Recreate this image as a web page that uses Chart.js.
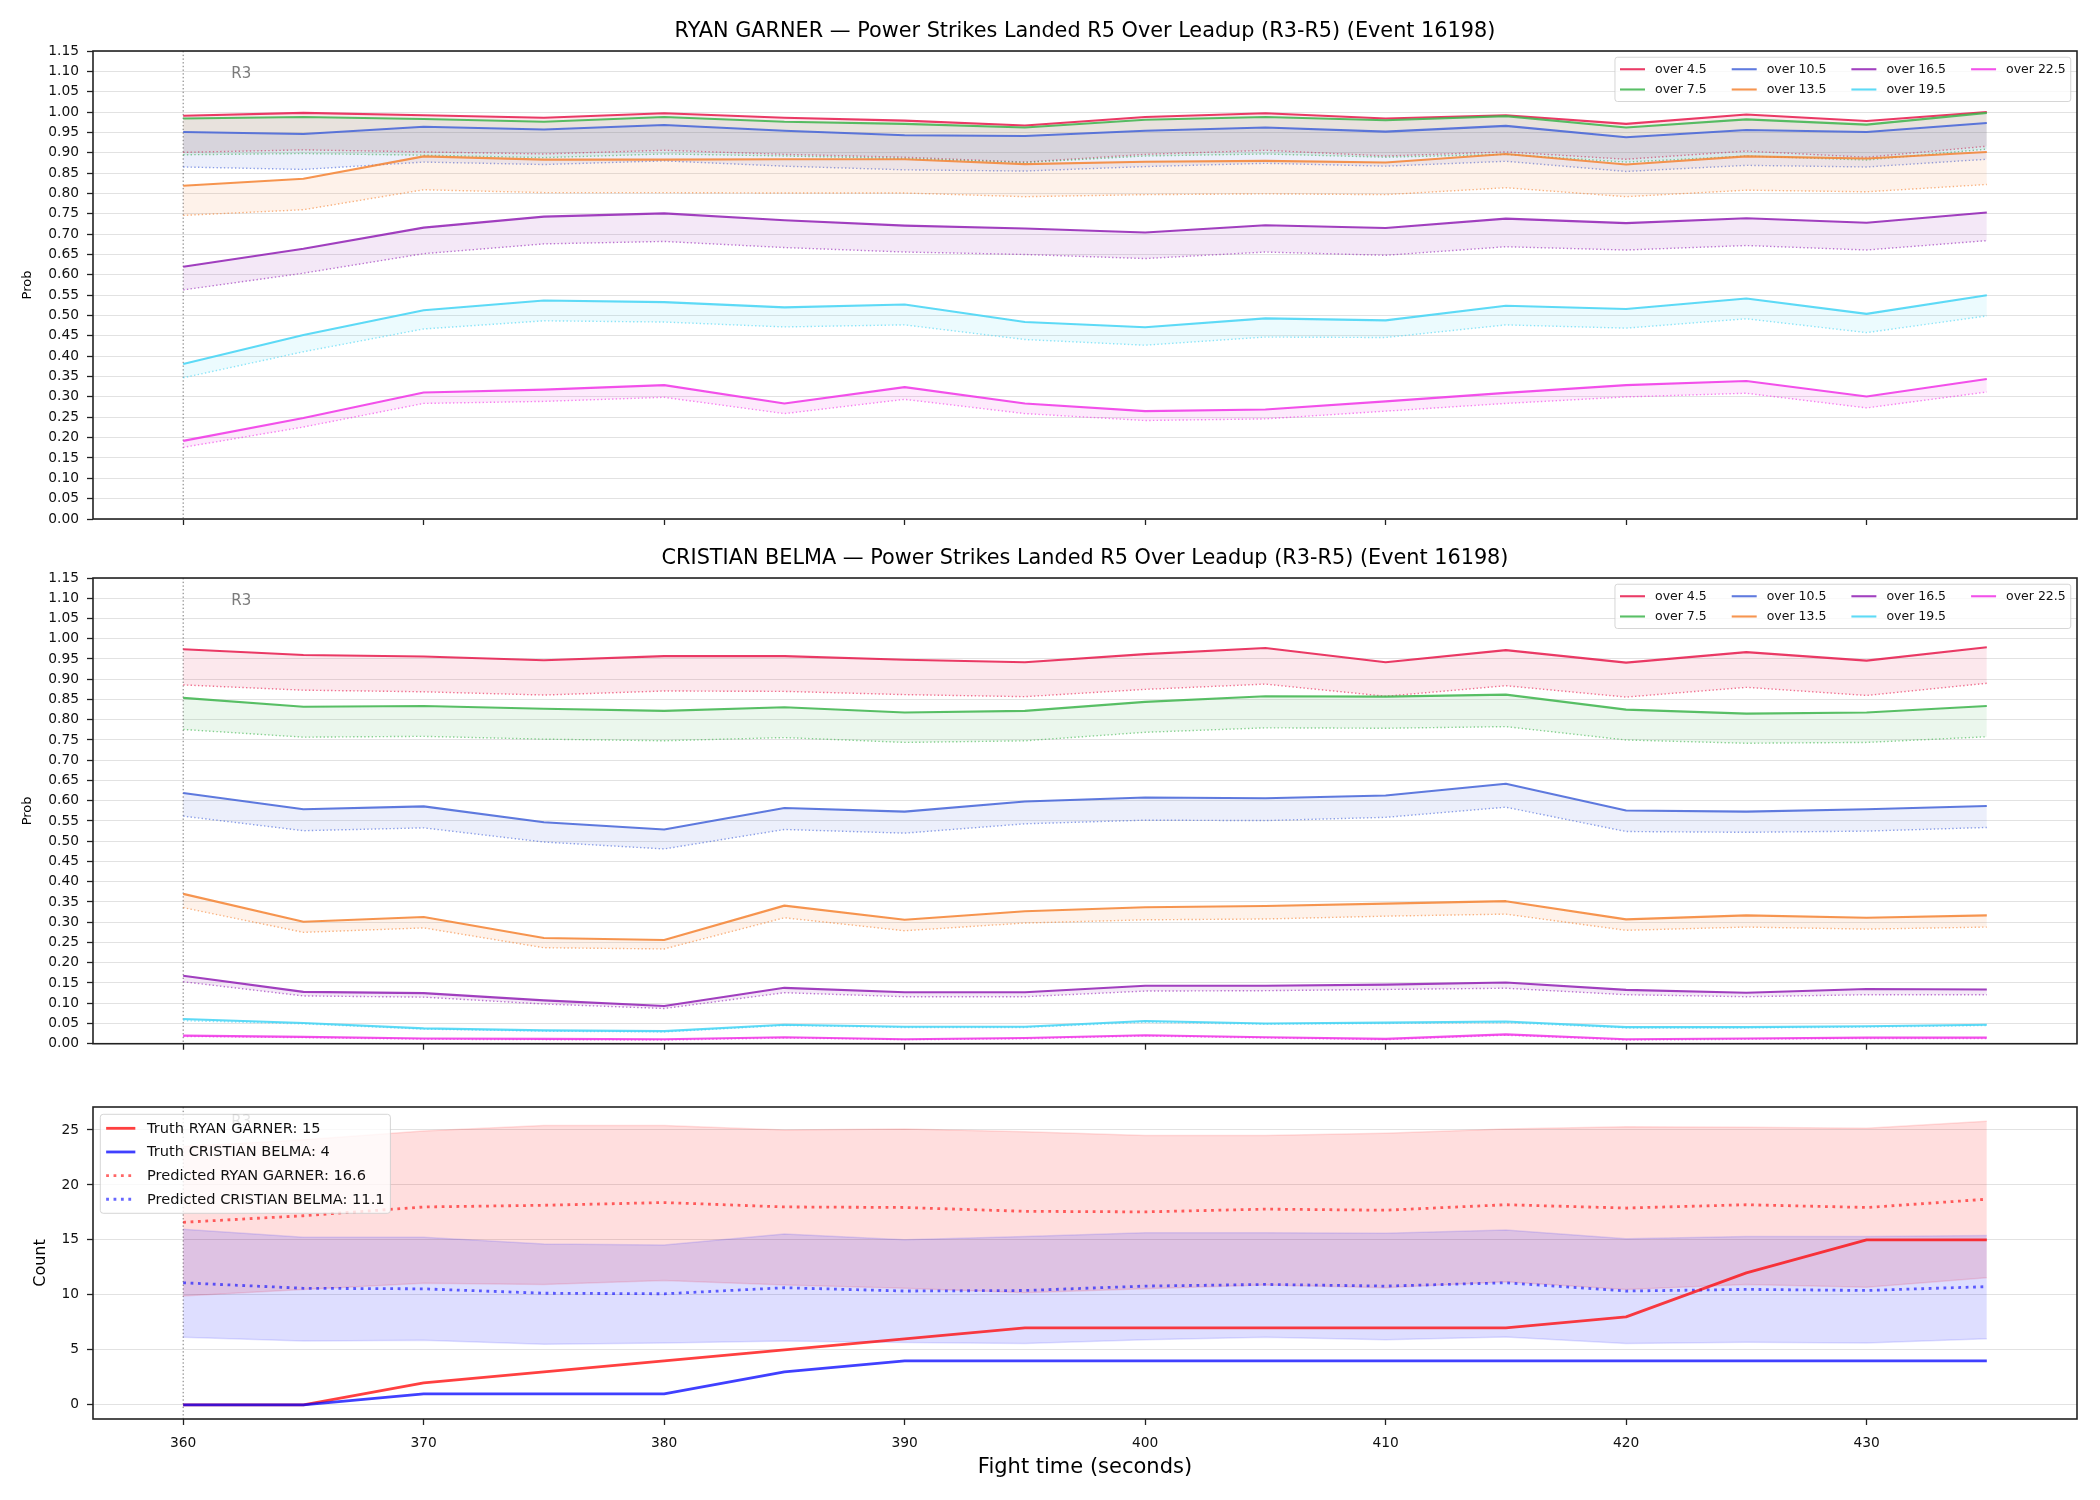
<!DOCTYPE html>
<html>
<head>
<meta charset="utf-8">
<title>Power Strikes Landed R5 Over Leadup (Event 16198)</title>
<script src="https://cdn.jsdelivr.net/npm/chart.js@4.4.1/dist/chart.umd.min.js"></script>
<style>
  body { margin: 0; background: #fff; }
  #figure { position: relative; width: 2100px; height: 1500px; background: #fff; }
  #figure canvas { position: absolute; left: 0; }
</style>
</head>
<body>
<div id="figure">
  <canvas id="garnerChart" width="2100" height="540" style="top:0px"></canvas>
  <canvas id="belmaChart" width="2100" height="520" style="top:540px"></canvas>
  <canvas id="countChart" width="2100" height="440" style="top:1060px"></canvas>
</div>
<script>
// fight time of each snapshot (seconds)
const times = [360, 365, 370, 375, 380, 385, 390, 395, 400, 405, 410, 415, 420, 425, 430, 435];
const xTicks = [360, 370, 380, 390, 400, 410, 420, 430];
const probTicks = [0.00, 0.05, 0.10, 0.15, 0.20, 0.25, 0.30, 0.35, 0.40, 0.45, 0.50, 0.55,
                   0.60, 0.65, 0.70, 0.75, 0.80, 0.85, 0.90, 0.95, 1.00, 1.05, 1.10, 1.15];
const countTicks = [0, 5, 10, 15, 20, 25];
const thresholdLabels = ['over 4.5', 'over 7.5', 'over 10.5', 'over 13.5', 'over 16.5', 'over 19.5', 'over 22.5'];

// RYAN GARNER - probability lines (solid) and lower dotted lines
const garner_4_5     = [0.991, 0.998, 0.992, 0.986, 0.997, 0.986, 0.979, 0.967, 0.988, 0.997, 0.984, 0.992, 0.971, 0.994, 0.978, 1.000];
const garner_4_5_lo  = [0.901, 0.907, 0.902, 0.897, 0.906, 0.896, 0.889, 0.877, 0.896, 0.906, 0.892, 0.902, 0.884, 0.904, 0.889, 0.916];
const garner_7_5     = [0.984, 0.988, 0.983, 0.976, 0.988, 0.976, 0.971, 0.962, 0.981, 0.988, 0.980, 0.990, 0.962, 0.982, 0.969, 0.998];
const garner_7_5_lo  = [0.895, 0.898, 0.894, 0.888, 0.897, 0.892, 0.886, 0.876, 0.892, 0.897, 0.889, 0.896, 0.877, 0.892, 0.882, 0.909];
const garner_10_5    = [0.951, 0.946, 0.964, 0.957, 0.968, 0.954, 0.943, 0.941, 0.954, 0.962, 0.952, 0.966, 0.938, 0.956, 0.951, 0.973];
const garner_10_5_lo = [0.865, 0.859, 0.877, 0.871, 0.880, 0.867, 0.858, 0.855, 0.866, 0.874, 0.867, 0.879, 0.854, 0.869, 0.865, 0.884];
const garner_13_5    = [0.819, 0.836, 0.891, 0.883, 0.883, 0.884, 0.884, 0.872, 0.878, 0.880, 0.876, 0.897, 0.871, 0.891, 0.886, 0.902];
const garner_13_5_lo = [0.746, 0.760, 0.809, 0.802, 0.802, 0.801, 0.801, 0.792, 0.797, 0.799, 0.797, 0.814, 0.792, 0.808, 0.804, 0.822];
const garner_16_5    = [0.620, 0.664, 0.716, 0.743, 0.751, 0.734, 0.721, 0.714, 0.704, 0.722, 0.715, 0.738, 0.727, 0.739, 0.728, 0.753];
const garner_16_5_lo = [0.563, 0.604, 0.652, 0.676, 0.682, 0.667, 0.656, 0.650, 0.640, 0.656, 0.648, 0.669, 0.661, 0.672, 0.661, 0.684];
const garner_19_5    = [0.381, 0.452, 0.513, 0.537, 0.533, 0.520, 0.527, 0.484, 0.471, 0.493, 0.488, 0.524, 0.516, 0.542, 0.504, 0.550];
const garner_19_5_lo = [0.347, 0.411, 0.467, 0.487, 0.484, 0.472, 0.477, 0.441, 0.427, 0.447, 0.446, 0.477, 0.469, 0.492, 0.458, 0.499];
const garner_22_5    = [0.192, 0.248, 0.311, 0.318, 0.329, 0.284, 0.324, 0.284, 0.265, 0.269, 0.289, 0.310, 0.329, 0.339, 0.301, 0.344];
const garner_22_5_lo = [0.176, 0.226, 0.284, 0.289, 0.299, 0.259, 0.294, 0.259, 0.242, 0.246, 0.265, 0.284, 0.300, 0.309, 0.273, 0.312];

// CRISTIAN BELMA - probability lines (solid) and lower dotted lines
const belma_4_5     = [0.974, 0.960, 0.956, 0.947, 0.957, 0.957, 0.948, 0.942, 0.962, 0.977, 0.942, 0.972, 0.941, 0.967, 0.946, 0.979];
const belma_4_5_lo  = [0.886, 0.873, 0.869, 0.861, 0.871, 0.870, 0.862, 0.857, 0.875, 0.888, 0.858, 0.884, 0.856, 0.880, 0.860, 0.890];
const belma_7_5     = [0.854, 0.832, 0.834, 0.827, 0.822, 0.831, 0.818, 0.822, 0.844, 0.858, 0.857, 0.862, 0.825, 0.815, 0.818, 0.834];
const belma_7_5_lo  = [0.776, 0.757, 0.759, 0.752, 0.748, 0.756, 0.744, 0.748, 0.769, 0.780, 0.779, 0.783, 0.750, 0.742, 0.744, 0.758];
const belma_10_5    = [0.619, 0.579, 0.586, 0.547, 0.529, 0.582, 0.573, 0.598, 0.608, 0.606, 0.613, 0.642, 0.576, 0.573, 0.579, 0.587];
const belma_10_5_lo = [0.562, 0.526, 0.533, 0.498, 0.481, 0.529, 0.520, 0.543, 0.552, 0.551, 0.559, 0.584, 0.524, 0.522, 0.525, 0.534];
const belma_13_5    = [0.370, 0.301, 0.313, 0.261, 0.256, 0.341, 0.306, 0.327, 0.337, 0.340, 0.346, 0.352, 0.307, 0.317, 0.311, 0.317];
const belma_13_5_lo = [0.336, 0.275, 0.286, 0.237, 0.234, 0.311, 0.279, 0.298, 0.306, 0.308, 0.315, 0.320, 0.280, 0.288, 0.283, 0.288];
const belma_16_5    = [0.168, 0.128, 0.125, 0.107, 0.093, 0.138, 0.127, 0.127, 0.143, 0.143, 0.146, 0.151, 0.133, 0.126, 0.135, 0.134];
const belma_16_5_lo = [0.153, 0.118, 0.115, 0.098, 0.087, 0.126, 0.116, 0.116, 0.130, 0.131, 0.134, 0.137, 0.121, 0.116, 0.121, 0.121];
const belma_19_5    = [0.061, 0.051, 0.038, 0.033, 0.031, 0.047, 0.042, 0.042, 0.056, 0.050, 0.052, 0.055, 0.041, 0.041, 0.043, 0.047];
const belma_19_5_lo = [0.057, 0.049, 0.036, 0.031, 0.029, 0.045, 0.040, 0.040, 0.053, 0.048, 0.050, 0.052, 0.039, 0.039, 0.041, 0.045];
const belma_22_5    = [0.020, 0.017, 0.013, 0.012, 0.011, 0.016, 0.011, 0.014, 0.021, 0.016, 0.012, 0.023, 0.011, 0.013, 0.015, 0.015];
const belma_22_5_lo = [0.018, 0.015, 0.011, 0.010, 0.009, 0.014, 0.010, 0.012, 0.019, 0.014, 0.010, 0.021, 0.009, 0.011, 0.013, 0.013];

// counts: truth, predicted mean and predicted band
const truthGarner = [0, 0, 2, 3, 4, 5, 6, 7, 7, 7, 7, 7, 8, 12, 15, 15];
const truthBelma  = [0, 0, 1, 1, 1, 3, 4, 4, 4, 4, 4, 4, 4, 4, 4, 4];
const predGarner  = [16.6, 17.2, 18.0, 18.15, 18.4, 18.0, 17.95, 17.6, 17.55, 17.8, 17.7, 18.2, 17.9, 18.2, 17.95, 18.7];
const predBelma   = [11.1, 10.6, 10.55, 10.15, 10.1, 10.65, 10.35, 10.4, 10.8, 10.95, 10.8, 11.1, 10.35, 10.5, 10.4, 10.75];
const garnerHigh  = [23.5, 24.1, 24.9, 25.4, 25.4, 25.0, 25.1, 24.85, 24.5, 24.5, 24.7, 25.1, 25.3, 25.25, 25.15, 25.8];
const garnerLow   = [9.9, 10.5, 11.05, 10.95, 11.3, 10.9, 10.6, 10.2, 10.55, 10.9, 10.65, 11.2, 10.5, 10.95, 10.7, 11.55];
const belmaHigh   = [15.97, 15.24, 15.24, 14.63, 14.54, 15.54, 15.02, 15.3, 15.66, 15.66, 15.6, 15.9, 15.1, 15.3, 15.3, 15.4];
const belmaLow    = [6.14, 5.8, 5.87, 5.5, 5.63, 5.8, 5.66, 5.57, 5.93, 6.14, 5.93, 6.17, 5.57, 5.69, 5.63, 6.02];

const truthGarnerFinal = 15;
const truthBelmaFinal = 4;
const predGarnerShown = 16.6;
const predBelmaShown = 11.1;

// colours for the thresholds
const thresholdColors = ['#e6194b', '#3cb44b', '#4363d8', '#f58231', '#911eb4', '#42d4f4', '#f032e6'];

Chart.defaults.font.family = '"DejaVu Sans", sans-serif';
Chart.defaults.color = '#111';

function rgba(hex, a) {
  const n = parseInt(hex.slice(1), 16);
  return `rgba(${(n >> 16) & 255},${(n >> 8) & 255},${n & 255},${a})`;
}

function points(arr) {
  return times.map((t, i) => ({ x: t, y: arr[i] }));
}

// legend drawn inside the axes, column by column
function drawLegend(chart, lg) {
  const { ctx, chartArea: a } = chart;
  const fs = lg.fontSize;
  const pad = 0.4 * fs, handleLen = 2 * fs, handleGap = 0.8 * fs;
  const rowGap = 0.5 * fs, colGap = 2 * fs, axPad = 0.5 * fs, textH = 1.12 * fs;
  ctx.save();
  ctx.font = fs + 'px "DejaVu Sans"';
  const nrow = Math.ceil(lg.items.length / lg.ncol);
  const cols = [];
  for (let i = 0; i < lg.items.length; i += nrow) cols.push(lg.items.slice(i, i + nrow));
  const colW = cols.map(c => handleLen + handleGap + Math.max(...c.map(it => ctx.measureText(it.label).width)));
  const w = 2 * pad + colW.reduce((s, v) => s + v, 0) + colGap * (cols.length - 1);
  const h = 2 * pad + nrow * textH + (nrow - 1) * rowGap;
  const left = lg.corner === 'upper right' ? a.right - axPad - w : a.left + axPad;
  const top = a.top + axPad;

  ctx.beginPath();
  ctx.roundRect(left, top, w, h, 0.2 * fs);
  ctx.fillStyle = 'rgba(255,255,255,0.8)';
  ctx.fill();
  ctx.strokeStyle = 'rgba(204,204,204,0.8)';
  ctx.lineWidth = 1;
  ctx.stroke();

  let cx = left + pad;
  cols.forEach((col, ci) => {
    col.forEach((it, ri) => {
      const cy = top + pad + ri * (textH + rowGap) + textH / 2;
      ctx.beginPath();
      ctx.setLineDash(it.dash || []);
      ctx.strokeStyle = it.color;
      ctx.lineWidth = it.width;
      ctx.moveTo(cx, cy);
      ctx.lineTo(cx + handleLen, cy);
      ctx.stroke();
      ctx.setLineDash([]);
      ctx.fillStyle = '#111';
      ctx.textBaseline = 'middle';
      ctx.textAlign = 'left';
      ctx.fillText(it.label, cx + handleLen + handleGap, cy + 0.5);
    });
    cx += colW[ci] + colGap;
  });
  ctx.restore();
}

// round marker, frame, title and legend
const panelDecor = {
  id: 'panelDecor',
  beforeDatasetsDraw(chart, args, opts) {
    const { ctx, chartArea: a, scales: { x } } = chart;
    const px = x.getPixelForValue(opts.markerX);
    ctx.save();
    ctx.strokeStyle = 'rgba(60,60,60,0.7)';
    ctx.lineWidth = 1;
    ctx.setLineDash([1.4, 2.3]);
    ctx.beginPath();
    ctx.moveTo(px, a.top);
    ctx.lineTo(px, a.bottom);
    ctx.stroke();
    ctx.restore();
  },
  afterDatasetsDraw(chart, args, opts) {
    const { ctx, chartArea: a, scales: { x, y } } = chart;
    ctx.save();
    ctx.font = '15px "DejaVu Sans"';
    ctx.fillStyle = 'rgba(90,90,90,0.8)';
    ctx.textAlign = 'left';
    ctx.textBaseline = 'middle';
    ctx.fillText(opts.markerText, x.getPixelForValue(opts.markerX + 2), y.getPixelForValue(y.max * 0.95));

    ctx.strokeStyle = '#222';
    ctx.lineWidth = 1.6;
    ctx.strokeRect(a.left, a.top, a.right - a.left, a.bottom - a.top);

    if (opts.title) {
      ctx.font = '20.8px "DejaVu Sans"';
      ctx.fillStyle = '#000';
      ctx.textAlign = 'center';
      ctx.textBaseline = 'middle';
      ctx.fillText(opts.title, (a.left + a.right) / 2, a.top - 19.5);
    }
    ctx.restore();
    if (opts.legend) drawLegend(chart, opts.legend);
  }
};

function buildScales(cfg) {
  return {
    x: {
      type: 'linear', min: 356.25, max: 438.75, bounds: 'data',
      afterBuildTicks: s => { s.ticks = xTicks.map(v => ({ value: v })); },
      afterFit: s => { s.height = cfg.xHeight; },
      grid: { drawOnChartArea: false, drawTicks: true, tickLength: 6, tickColor: '#222', tickWidth: 1.3 },
      border: { display: false },
      ticks: { display: cfg.showX, autoSkip: false, maxRotation: 0, padding: 10.5, color: '#111', font: { size: 13.8 } },
      title: cfg.xTitle
        ? { display: true, text: cfg.xTitle, color: '#000', font: { size: 21 }, padding: { top: 0, bottom: 19.5 } }
        : { display: false }
    },
    y: {
      type: 'linear', min: cfg.yMin, max: cfg.yMax, bounds: 'data',
      afterBuildTicks: s => { s.ticks = cfg.yTicks.map(v => ({ value: v })); },
      afterFit: s => { s.width = 93; },
      grid: { color: '#e2e2e2', lineWidth: 1, tickLength: 6, tickColor: '#222', tickWidth: 1.3 },
      border: { display: false },
      ticks: { autoSkip: false, padding: 8, color: '#111', font: { size: 13.8 }, callback: cfg.yFormat },
      title: { display: true, text: cfg.yTitle, color: '#000', font: { size: cfg.yTitleSize },
               padding: { top: cfg.yTitleCenter - cfg.yTitleSize * 0.6, bottom: 0 } }
    }
  };
}

function thresholdDatasets(lines, lows) {
  const sets = [];
  lines.forEach((line, i) => {
    const c = thresholdColors[i];
    sets.push({
      label: thresholdLabels[i], data: points(line),
      borderColor: rgba(c, 0.85), borderWidth: 2.1, backgroundColor: rgba(c, 0.1), fill: '+1',
      pointRadius: 0, tension: 0, borderJoinStyle: 'round', order: -2 * i
    });
    sets.push({
      label: thresholdLabels[i] + ' low', data: points(lows[i]),
      borderColor: rgba(c, 0.6), borderWidth: 1.4, borderDash: [1.4, 2.3], fill: false,
      pointRadius: 0, tension: 0, order: -2 * i - 1
    });
  });
  return sets;
}

const thresholdLegend = {
  corner: 'upper right', ncol: 4, fontSize: 12.5,
  items: thresholdLabels.map((l, i) => ({ label: l, color: rgba(thresholdColors[i], 0.85), width: 2.1 }))
};

function probChart(id, name, lines, lows, xHeight, top) {
  return new Chart(document.getElementById(id), {
    type: 'line',
    data: { datasets: thresholdDatasets(lines, lows) },
    options: {
      responsive: false, animation: false, devicePixelRatio: 1,
      layout: { padding: { top: top, right: 23, bottom: 0, left: 0 } },
      scales: buildScales({
        xHeight: xHeight, showX: false, yMin: 0, yMax: 1.15, yTicks: probTicks,
        yFormat: v => v.toFixed(2), yTitle: 'Prob', yTitleSize: 13, yTitleCenter: 28
      }),
      plugins: {
        legend: { display: false }, tooltip: { enabled: false },
        panelDecor: {
          markerX: 360, markerText: 'R3', legend: thresholdLegend,
          title: name + ' \u2014 Power Strikes Landed R5 Over Leadup (R3-R5) (Event 16198)'
        }
      }
    },
    plugins: [panelDecor]
  });
}

probChart('garnerChart', 'RYAN GARNER',
  [garner_4_5, garner_7_5, garner_10_5, garner_13_5, garner_16_5, garner_19_5, garner_22_5],
  [garner_4_5_lo, garner_7_5_lo, garner_10_5_lo, garner_13_5_lo, garner_16_5_lo, garner_19_5_lo, garner_22_5_lo],
  21, 51);

probChart('belmaChart', 'CRISTIAN BELMA',
  [belma_4_5, belma_7_5, belma_10_5, belma_13_5, belma_16_5, belma_19_5, belma_22_5],
  [belma_4_5_lo, belma_7_5_lo, belma_10_5_lo, belma_13_5_lo, belma_16_5_lo, belma_19_5_lo, belma_22_5_lo],
  13, 38);

// count panel
const RED = '#ff0000', BLUE = '#0000ff';
const lineBase = { pointRadius: 0, tension: 0, borderJoinStyle: 'round' };
const countDatasets = [
  { ...lineBase, label: 'garner high', data: points(garnerHigh), borderColor: rgba(RED, 0.12), borderWidth: 1.5,
    backgroundColor: rgba(RED, 0.13), fill: '+1' },
  { ...lineBase, label: 'garner low', data: points(garnerLow), borderColor: rgba(RED, 0.12), borderWidth: 1.5, fill: false },
  { ...lineBase, label: 'belma high', data: points(belmaHigh), borderColor: rgba(BLUE, 0.12), borderWidth: 1.5,
    backgroundColor: rgba(BLUE, 0.13), fill: '+1' },
  { ...lineBase, label: 'belma low', data: points(belmaLow), borderColor: rgba(BLUE, 0.12), borderWidth: 1.5, fill: false },
  { ...lineBase, label: 'Predicted RYAN GARNER: ' + predGarnerShown, data: points(predGarner),
    borderColor: rgba(RED, 0.6), borderWidth: 2.8, borderDash: [2.8, 4.6], fill: false },
  { ...lineBase, label: 'Predicted CRISTIAN BELMA: ' + predBelmaShown, data: points(predBelma),
    borderColor: rgba(BLUE, 0.6), borderWidth: 2.8, borderDash: [2.8, 4.6], fill: false },
  { ...lineBase, label: 'Truth RYAN GARNER: ' + truthGarnerFinal, data: points(truthGarner),
    borderColor: rgba(RED, 0.75), borderWidth: 2.8, fill: false },
  { ...lineBase, label: 'Truth CRISTIAN BELMA: ' + truthBelmaFinal, data: points(truthBelma),
    borderColor: rgba(BLUE, 0.75), borderWidth: 2.8, fill: false }
];
countDatasets.forEach((d, i) => { d.order = -i; });

new Chart(document.getElementById('countChart'), {
  type: 'line',
  data: { datasets: countDatasets },
  options: {
    responsive: false, animation: false, devicePixelRatio: 1,
    layout: { padding: { top: 47, right: 23, bottom: 0, left: 0 } },
    scales: buildScales({
      xHeight: 81, showX: true, xTitle: 'Fight time (seconds)',
      yMin: -1.29, yMax: 27.09, yTicks: countTicks, yFormat: v => String(v),
      yTitle: 'Count', yTitleSize: 16, yTitleCenter: 40.5
    }),
    plugins: {
      legend: { display: false }, tooltip: { enabled: false },
      panelDecor: {
        markerX: 360, markerText: 'R3',
        legend: {
          corner: 'upper left', ncol: 1, fontSize: 14.6,
          items: [6, 7, 4, 5].map(i => ({
            label: countDatasets[i].label, color: countDatasets[i].borderColor,
            width: countDatasets[i].borderWidth, dash: countDatasets[i].borderDash
          }))
        }
      }
    }
  },
  plugins: [panelDecor]
});
</script>
</body>
</html>
